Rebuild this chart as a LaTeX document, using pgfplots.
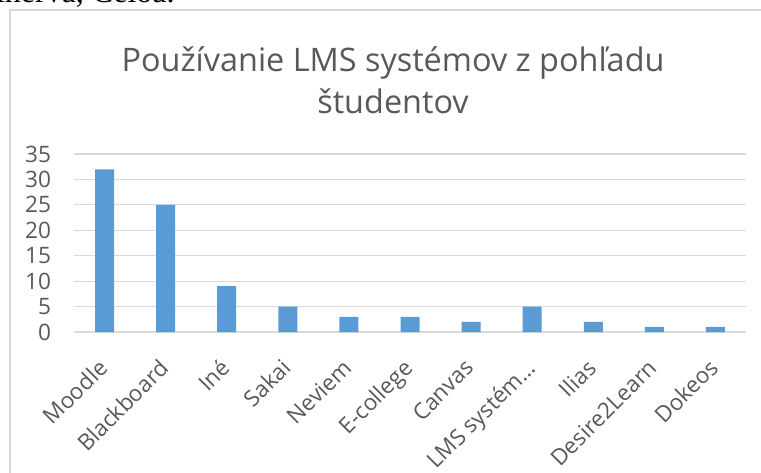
\documentclass[border=0pt]{standalone}
\usepackage{pgfplots}
\pgfplotsset{compat=1.18}
\usepackage{fontspec}
\setmainfont{Open Sans}
\newfontfamily\serif{Liberation Serif}
\definecolor{barblue}{HTML}{5B9BD5}
\definecolor{gridgray}{HTML}{D9D9D9}
\definecolor{txtgray}{HTML}{595959}

\begin{document}
\begin{tikzpicture}
% 1 px of the reference = 0.5pt
\clip (0,0) rectangle (380.5pt,-236pt);
\fill[white] (0,0) rectangle (380.5pt,-236pt);
\node[anchor=base east, inner sep=0pt, font=\serif\fontsize{16}{18}\selectfont] at (87.5pt,-1.2pt) {Minerva, Celoa.};
\draw[gridgray, line width=0.6pt] (5pt,-5pt) rectangle (420pt,-280pt);
\node[align=center, text=txtgray, font=\fontsize{16.2}{21}\selectfont] at (196.5pt,-40pt)
  {Používanie LMS systémov z pohľadu\\študentov};
\begin{axis}[
  at={(37pt,-77pt)}, anchor=north west,
  width=336pt, height=89pt, scale only axis,
  ymin=0, ymax=35, ytick={0,5,...,35},
  xmin=-0.5, xmax=10.5,
  xtick=data,
  xticklabels={Moodle,Blackboard,Iné,Sakai,Neviem,E-college,Canvas,LMS systém…,Ilias,Desire2Learn,Dokeos},
  xticklabel style={xshift=-3.8pt, yshift=-11.2pt, rotate=45, anchor=north east, inner sep=1pt,
    font=\fontsize{11.2}{13}\selectfont},
  ymajorgrids, grid style={gridgray, line width=0.6pt},
  axis x line*=bottom, axis y line*=left,
  x axis line style={gridgray, line width=0.6pt},
  y axis line style={draw=none},
  major tick length=0pt,
  ticklabel style={text=txtgray},
  yticklabel style={anchor=east, xshift=-8pt, font=\fontsize{11.3}{13}\selectfont},
  /pgf/number format/assume math mode=true,
  ybar, bar width=9.5pt,
  clip=false,
]
\addplot[fill=barblue, draw=none] coordinates {
  (0,32) (1,25) (2,9) (3,5) (4,3) (5,3) (6,2) (7,5) (8,2) (9,1) (10,1)
};
\end{axis}
\end{tikzpicture}
\end{document}
